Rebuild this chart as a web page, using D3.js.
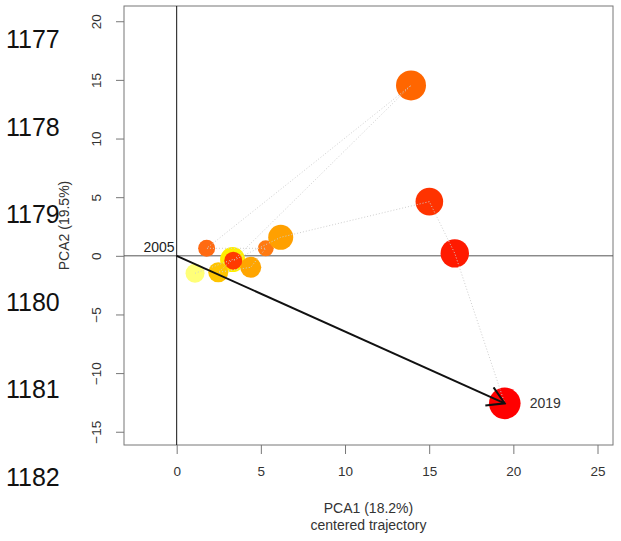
<!DOCTYPE html>
<html>
<head>
<meta charset="utf-8">
<script src="https://cdn.jsdelivr.net/npm/d3@7"></script>
<style>
  body { margin: 0; background: #fff; }
  svg { display: block; font-family: "Liberation Sans", Arial, sans-serif; }
</style>
</head>
<body>
<svg width="621" height="541"></svg>
<script>
// trajectory points, in time order
const pca1 = [1.09, 3.32, 2.47, 4.40, 5.29, 1.78, 13.92, 3.36, 6.18, 15.01, 16.52, 19.49];
const pca2 = [-1.49, -0.32, -1.41, -0.98, 0.64, 0.64, 14.53, -0.41, 1.58, 4.62, 0.21, -12.58];
const weight = [9.5, 12.5, 10, 10.5, 8, 8.5, 15, 9, 12.5, 13.8, 14.2, 15.8];
const pointColors = ["#ffff78", "#ffee00", "#ffc400", "#ffa500", "#ff7a12", "#ff6a12",
                     "#ff6600", "#ff3a00", "#ffa000", "#ff3300", "#ff1a00", "#ff0000"];
const xTicks = [0, 5, 10, 15, 20, 25];
const yTicks = [-15, -10, -5, 0, 5, 10, 15, 20];
const startLabel = "2005", endLabel = "2019";
const lineNumbers = ["1177", "1178", "1179", "1180", "1181", "1182"];

const svg = d3.select("svg");
const box = {left: 124, top: 6, right: 613, bottom: 445};

const x = d3.scaleLinear().domain([-3.13, 25.92]).range([box.left, box.right]);
const y = d3.scaleLinear().domain([-16.13, 21.3]).range([box.bottom, box.top]);
const r = d3.scaleLinear().domain([0, 16]).range([0, 16]);

const pts = pca1.map((v, i) => ({x: v, y: pca2[i], w: weight[i], c: pointColors[i]}));

// axes
const xAxis = svg.append("g")
  .attr("transform", `translate(0,${box.bottom})`)
  .call(d3.axisBottom(x).tickValues(xTicks).tickSize(9).tickPadding(12).tickSizeOuter(0));
const yAxis = svg.append("g")
  .attr("transform", `translate(${box.left},0)`)
  .call(d3.axisLeft(y).tickValues(yTicks).tickSize(8).tickSizeOuter(0));
[xAxis, yAxis].forEach(a => {
  a.select(".domain").remove();
  a.selectAll("line").attr("stroke", "#777");
  a.selectAll("text").attr("fill", "#333").style("font-size", "13.5px");
});
yAxis.selectAll("text")
  .attr("transform", "rotate(-90)")
  .attr("x", 0).attr("y", -28).attr("dy", "0.35em")
  .attr("text-anchor", "middle")
  .text(d => d < 0 ? "\u2212" + Math.abs(d) : d);

svg.append("rect")
  .attr("x", box.left).attr("y", box.top)
  .attr("width", box.right - box.left).attr("height", box.bottom - box.top)
  .attr("fill", "none").attr("stroke", "#777");

// zero lines
svg.append("line")
  .attr("x1", box.left).attr("x2", box.right).attr("y1", y(0)).attr("y2", y(0))
  .attr("stroke", "#555");
svg.append("line")
  .attr("x1", x(0)).attr("x2", x(0)).attr("y1", box.top).attr("y2", box.bottom)
  .attr("stroke", "#111");

// points
svg.append("g").selectAll("circle")
  .data(pts).enter().append("circle")
  .attr("cx", d => x(d.x)).attr("cy", d => y(d.y))
  .attr("r", d => r(d.w))
  .attr("fill", d => d.c);

// dotted trajectory segments
svg.append("path")
  .datum(pts)
  .attr("d", d3.line().x(d => x(d.x)).y(d => y(d.y)))
  .attr("fill", "none").attr("stroke", "#cfcfcf")
  .attr("stroke-width", 1).attr("stroke-dasharray", "1,2");

// arrow first -> last
svg.append("defs").append("marker")
  .attr("id", "head").attr("viewBox", "0 -11 19 22")
  .attr("refX", 17.3).attr("refY", 0)
  .attr("markerWidth", 19).attr("markerHeight", 22)
  .attr("markerUnits", "userSpaceOnUse").attr("orient", "auto")
  .append("path").attr("d", "M0.5,-10 L17.3,0 L0.5,10")
  .attr("fill", "none").attr("stroke", "#111").attr("stroke-width", 2);

const last = pts[pts.length - 1];
svg.append("line")
  .attr("x1", x(0)).attr("y1", y(0))
  .attr("x2", x(last.x)).attr("y2", y(last.y))
  .attr("stroke", "#111").attr("stroke-width", 2)
  .attr("marker-end", "url(#head)");

svg.append("text")
  .attr("x", x(0) - 2).attr("y", y(0) - 9).attr("dy", "0.35em")
  .attr("text-anchor", "end").attr("fill", "#222").style("font-size", "14px")
  .text(startLabel);
svg.append("text")
  .attr("x", x(last.x) + 25).attr("y", y(last.y)).attr("dy", "0.35em")
  .attr("fill", "#333").style("font-size", "14px")
  .text(endLabel);

// axis titles
svg.append("text")
  .attr("x", (box.left + box.right) / 2).attr("y", 513)
  .attr("text-anchor", "middle").attr("fill", "#333").style("font-size", "14px")
  .text("PCA1 (18.2%)");
svg.append("text")
  .attr("x", (box.left + box.right) / 2).attr("y", 530)
  .attr("text-anchor", "middle").attr("fill", "#333").style("font-size", "14px")
  .text("centered trajectory");
svg.append("text")
  .attr("transform", `translate(69,${(box.top + box.bottom) / 2}) rotate(-90)`)
  .attr("text-anchor", "middle").attr("fill", "#333").style("font-size", "14px")
  .text("PCA2 (19.5%)");

// document line numbers on the left
svg.append("g").selectAll("text")
  .data(lineNumbers).enter().append("text")
  .attr("x", 6).attr("y", (d, i) => 48.3 + i * 87.5)
  .attr("fill", "#111").style("font-size", "25px")
  .text(d => d);
</script>
</body>
</html>
